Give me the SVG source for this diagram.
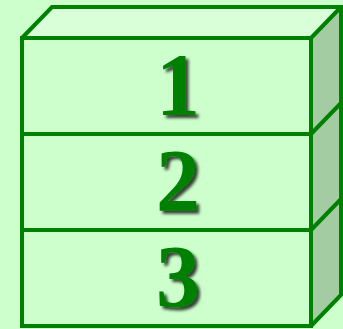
<svg xmlns="http://www.w3.org/2000/svg" width="343" height="329" viewBox="0 0 343 329">
<defs>
<style>
.ln{stroke:#008000;stroke-width:4;stroke-linejoin:miter;fill:none}
.num{font-family:"Liberation Serif","Times New Roman",serif;font-weight:bold;font-size:88px;fill:#008000;text-anchor:middle}
</style>
<filter id="sh" x="-30%" y="-30%" width="160%" height="160%">
<feDropShadow dx="3" dy="3" stdDeviation="1.5" flood-color="#000" flood-opacity="0.75"/>
</filter>
</defs>
<rect x="0" y="0" width="343" height="329" fill="#CCFFCC"/>
<g id="box">
<polygon points="22,38 52,7 341,7 311,38" fill="#D9FFD9"/>
<polygon points="311,38 341,7 341,295 311,326" fill="#A3CCA3"/>
<path class="ln" d="M22,38 L52,7 L341,7 L341,295 L311,326 M311,38 L341,7 M311,134 L341,103 M311,230 L341,199"/>
</g>
<g id="n1">
<rect class="ln" x="22" y="38" width="289" height="96"/>
<text class="num" x="178" y="114" filter="url(#sh)">1</text>
</g>
<g id="n2">
<rect class="ln" x="22" y="134" width="289" height="96"/>
<text class="num" x="178" y="210" filter="url(#sh)">2</text>
</g>
<g id="n3">
<rect class="ln" x="22" y="230" width="289" height="96"/>
<text class="num" x="178" y="306" filter="url(#sh)">3</text>
</g>
<g id="connectors"/>
</svg>
